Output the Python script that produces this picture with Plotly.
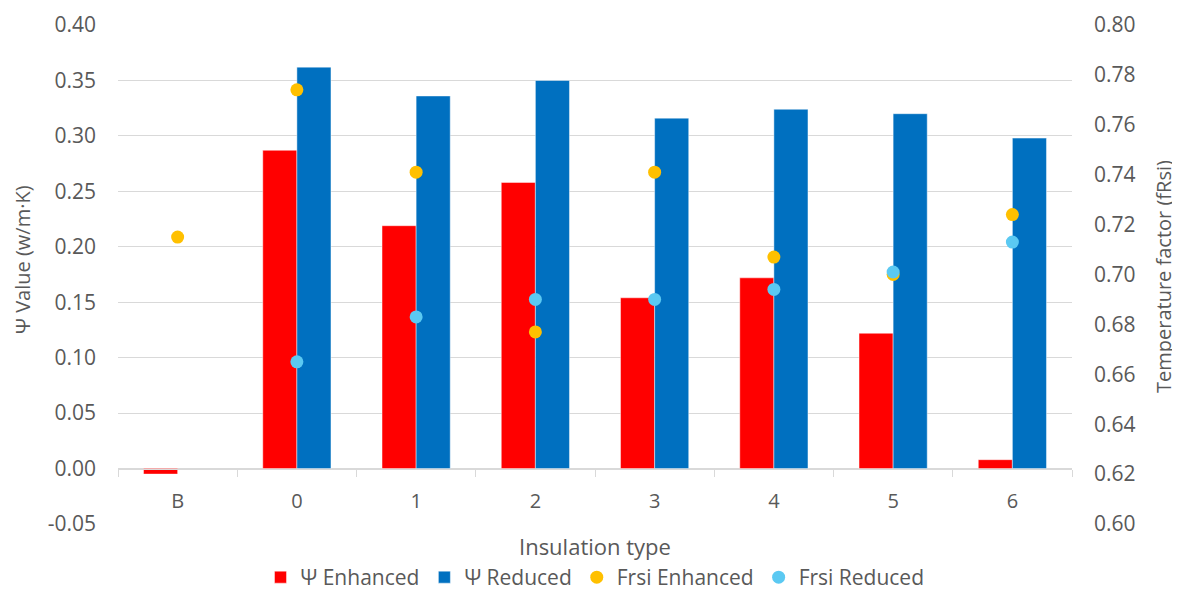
import plotly.graph_objects as go

categories = ["B", "0", "1", "2", "3", "4", "5", "6"]
psi_enhanced = [-0.005, 0.287, 0.219, 0.258, 0.154, 0.172, 0.122, 0.008]
psi_reduced = [None, 0.362, 0.336, 0.350, 0.316, 0.324, 0.320, 0.298]
frsi_enhanced = [0.715, 0.774, 0.741, 0.677, 0.741, 0.707, 0.700, 0.724]
frsi_reduced = [None, 0.665, 0.683, 0.690, 0.690, 0.694, 0.701, 0.713]

left_ticks = [-0.05, 0.0, 0.05, 0.10, 0.15, 0.20, 0.25, 0.30, 0.35, 0.40]
right_ticks = [0.60, 0.62, 0.64, 0.66, 0.68, 0.70, 0.72, 0.74, 0.76, 0.78, 0.80]

FONT = "Open Sans"
TXT = "#595959"
GRID = "#D9D9D9"

fig = go.Figure()
fig.add_trace(go.Bar(x=categories, y=psi_enhanced, name="Ψ Enhanced",
                     marker=dict(color="#FF0000", line=dict(color="rgba(255,255,255,0.6)", width=0.75))))
fig.add_trace(go.Bar(x=categories, y=psi_reduced, name="Ψ Reduced",
                     marker=dict(color="#0070C0", line=dict(color="rgba(255,255,255,0.6)", width=0.75))))
fig.add_trace(go.Scatter(x=categories, y=frsi_enhanced, name="Frsi Enhanced", mode="markers",
                         marker=dict(color="#FFC000", size=13), yaxis="y2"))
fig.add_trace(go.Scatter(x=categories, y=frsi_reduced, name="Frsi Reduced", mode="markers",
                         marker=dict(color="#5BC9F2", size=13), yaxis="y2"))

ymin, ymax = left_ticks[0], left_ticks[-1]
zero_pos = (0 - ymin) / (ymax - ymin)

# page body has an 8px margin; figure is sized/offset to compensate
OFF = 8
W, H = 1180 - OFF, 598 - OFF
PL, PR, PT, PB = 118, 1072, 25.3, 523.7  # plot area in screenshot pixels
PW, PH = PR - PL, PB - PT

fig.update_layout(
    width=W, height=H,
    margin=dict(l=PL - OFF, r=W - (PR - OFF), t=PT - OFF, b=H - (PB - OFF), autoexpand=False),
    paper_bgcolor="white", plot_bgcolor="white",
    font=dict(family=FONT, size=21, color=TXT),
    barmode="group", bargap=0.428, bargroupgap=0,
    showlegend=True,
    legend=dict(orientation="h", x=0.5, xanchor="center", xref="paper",
                y=0, yanchor="bottom", yref="container",
                font=dict(size=21, color=TXT), itemwidth=30, tracegroupgap=0),
    xaxis=dict(anchor="free", position=zero_pos, showline=True, linecolor=GRID, linewidth=1,
               ticks="outside", tickson="boundaries", ticklen=7, tickcolor=GRID,
               showgrid=False, tickfont=dict(size=20, color=TXT), ticklabelstandoff=14,
               automargin=False),
    yaxis=dict(range=[ymin, ymax], tickvals=left_ticks,
               ticktext=[f"{v:.2f}" for v in left_ticks],
               showgrid=True, gridcolor=GRID, gridwidth=1, zeroline=False,
               showline=False, ticks="", tickfont=dict(size=21, color=TXT),
               ticklabelstandoff=21, automargin=False),
    yaxis2=dict(range=[right_ticks[0], right_ticks[-1]], tickvals=right_ticks,
                ticktext=[f"{v:.2f}" for v in right_ticks],
                overlaying="y", side="right", showgrid=False, zeroline=False,
                showline=False, ticks="", tickfont=dict(size=21, color=TXT),
                ticklabelstandoff=21, automargin=False),
    annotations=[
        dict(text="Insulation type", xref="paper", yref="paper", x=0.5,
             y=-(546 - PB) / PH, xanchor="center", yanchor="middle", showarrow=False,
             font=dict(size=22, color=TXT)),
        dict(text="Ψ Value (w/m·K)", xref="paper", yref="paper",
             x=(23 - PL) / PW, y=(PB - 260) / PH, textangle=-90,
             xanchor="center", yanchor="middle", showarrow=False,
             font=dict(size=20, color=TXT)),
        dict(text="Temperature factor (fRsi)", xref="paper", yref="paper",
             x=(1163 - PL) / PW, y=(PB - 277) / PH, textangle=-90,
             xanchor="center", yanchor="middle", showarrow=False,
             font=dict(size=20, color=TXT)),
    ],
)

fig.write_html("out.html")
